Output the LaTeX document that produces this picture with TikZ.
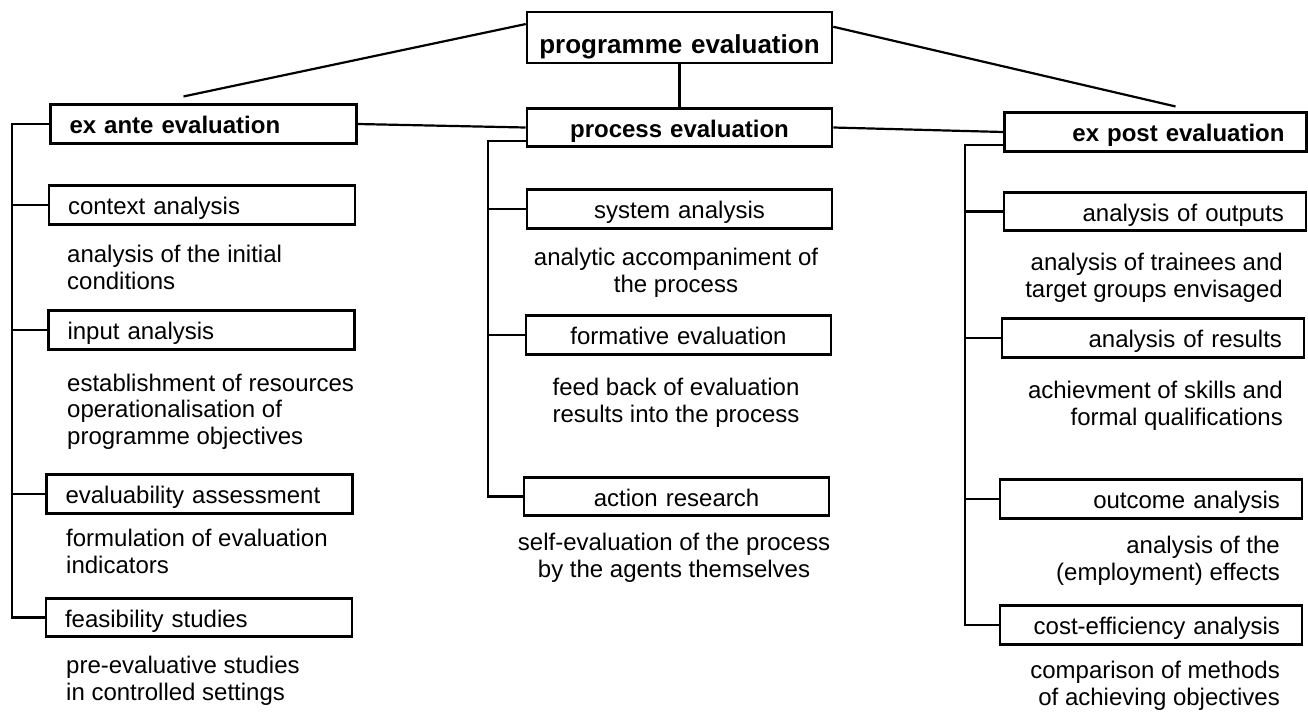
\documentclass[tikz,border=0pt]{standalone}
\usepackage{fontspec}
\setmainfont{Liberation Sans}

\begin{document}
\begin{tikzpicture}[x=1pt, y=-1pt,
  every node/.style={font=\fontsize{24}{26.5}\selectfont, inner sep=0pt},
  box/.style={draw, line width=2.6pt, text height=29pt, text depth=9.5pt},
  leftbox/.style={box, inner xsep=19pt, text width=268pt, align=left},
  midbox/.style={box, text width=305pt, align=center},
  rightbox/.style={box, inner xsep=22pt, text width=258pt, align=right},
  head/.style={font=\fontsize{24}{26.5}\selectfont\bfseries},
  leftnote/.style={anchor=base west, align=left},
  midnote/.style={anchor=base, align=center},
  rightnote/.style={anchor=base east, align=right},
  link/.style={line width=2.2pt}]

\useasboundingbox (0,0) rectangle (1308,713);

% Top level
\node[midbox, head, font=\fontsize{26}{28}\selectfont\bfseries, text height=41pt, text depth=10pt] (title) at (679.5,37.5) {programme evaluation};
\node[leftbox, head] (exante) at (203.5,124) {ex ante evaluation};
\node[midbox, head] (process) at (679.5,127.5) {process evaluation};
\node[rightbox, head] (expost) at (1155.5,132) {ex post evaluation};

% Ex ante column
\node[leftbox] (context) at (202,205) {context analysis};
\node[leftbox] (input) at (201.5,330) {input analysis};
\node[leftbox] (evaluab) at (199.5,494) {evaluability assessment};
\node[leftbox] (feasib) at (199,617.5) {feasibility studies};

% notes are placed by the baseline of their last line
\node[leftnote] (contextnote) at (67,289) {analysis of the initial\\conditions};
\node[leftnote] (inputnote) at (67,444) {establishment of resources\\operationalisation of\\programme objectives};
\node[leftnote] (evaluabnote) at (66,573) {formulation of evaluation\\indicators};
\node[leftnote] (feasibnote) at (66,700) {pre-evaluative studies\\in controlled settings};

% Process column
\node[midbox] (system) at (679.5,209) {system analysis};
\node[midbox] (formative) at (678.5,335) {formative evaluation};
\node[midbox] (action) at (676.5,496.5) {action research};

\node[midnote] (systemnote) at (676,292) {analytic accompaniment of\\the process};
\node[midnote] (formativenote) at (676,422) {feed back of evaluation\\results into the process};
\node[midnote] (actionnote) at (674,577) {self-evaluation of the process\\by the agents themselves};

% Ex post column
\node[rightbox] (outputs) at (1155,211.5) {analysis of outputs};
\node[rightbox] (results) at (1153,338) {analysis of results};
\node[rightbox] (outcome) at (1151,499) {outcome analysis};
\node[rightbox] (cost) at (1151,625) {cost-efficiency analysis};

\node[rightnote] (outputsnote) at (1283,297) {analysis of trainees and\\target groups envisaged};
\node[rightnote] (resultsnote) at (1283,425) {achievment of skills and\\formal qualifications};
\node[rightnote] (outcomenote) at (1280,580) {analysis of the\\(employment) effects};
\node[rightnote] (costnote) at (1280,705) {comparison of methods\\of achieving objectives};

% Links between the three kinds
\draw[link] (title.175) -- ([shift={(-20,-7)}]exante.north);
\draw[link] (title.4) -- ([shift={(20,-5)}]expost.north);
\draw[link] (title.south) -- (process.north);
\draw[link] (exante.east) -- (process.west);
\draw[link] (process.east) -- (expost.west);

% Brackets
\coordinate (lbar) at (12,0);
\coordinate (mbar) at (488,0);
\coordinate (rbar) at (965,0);
\draw[link] (exante.west) -- (exante.west -| lbar) |- (feasib.west);
\foreach \n in {context, input, evaluab}
  \draw[link] (\n.west) -- (\n.west -| lbar);
\draw[link] (process.185) -- (process.185 -| mbar) |- (action.west);
\foreach \n in {system, formative}
  \draw[link] (\n.west) -- (\n.west -| mbar);
\draw[link] (expost.185) -- (expost.185 -| rbar) |- (cost.west);
\foreach \n in {outputs, results, outcome}
  \draw[link] (\n.west) -- (\n.west -| rbar);

\end{tikzpicture}
\end{document}
